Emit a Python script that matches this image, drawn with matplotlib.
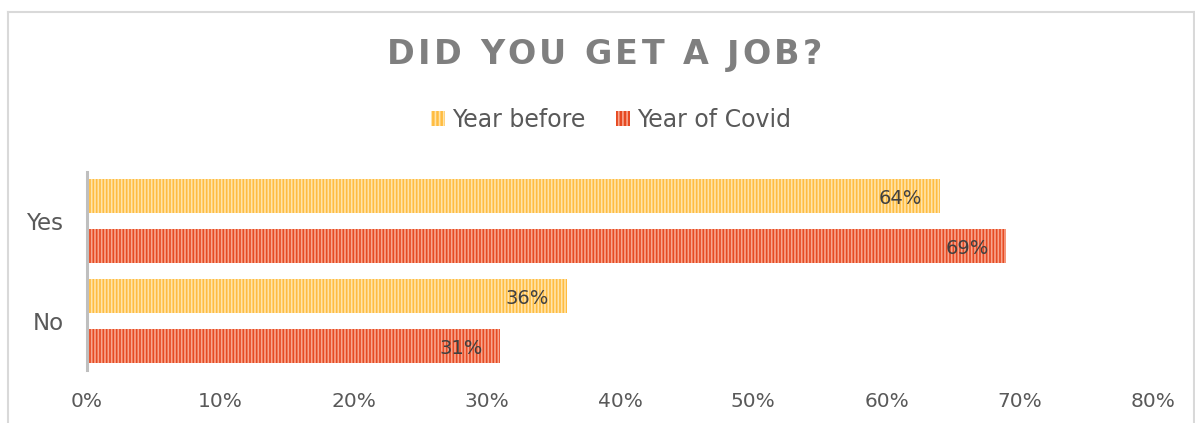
import matplotlib
matplotlib.use("Agg")
import matplotlib.pyplot as plt
from matplotlib.patches import Patch
from matplotlib.lines import Line2D
from matplotlib.font_manager import FontProperties

# data
categories = ["No", "Yes"]
year_before = [0.36, 0.64]
year_covid = [0.31, 0.69]
series_names = ["Year before", "Year of Covid"]
x_ticks = [0.0, 0.1, 0.2, 0.3, 0.4, 0.5, 0.6, 0.7, 0.8]
title = "DID YOU GET A JOB?"

W, H = 1195, 423
plt.rcParams["font.family"] = ["DejaVu Sans"]
plt.rcParams["hatch.linewidth"] = 1.2

fig = plt.figure(figsize=(W / 100, H / 100), dpi=100)
fig.patch.set_facecolor("white")

# chart frame (outer border)
border = dict(color="#D9D9D9", lw=1.5, transform=None)
fig.add_artist(Line2D([8, 8], [0, H - 12], **border))
fig.add_artist(Line2D([8, 1194], [H - 12, H - 12], **border))
fig.add_artist(Line2D([1194, 1194], [0, H - 12], **border))

ax = fig.add_axes([87 / W, 1 - 370 / H, (1153 - 87) / W, (370 - 172) / H])

c_before, h_before = "#FFBC40", "#FFE4AA"
c_covid, h_covid = "#E64A22", "#F8A68E"

pos = list(range(len(categories)))
bh = 0.34
b1 = ax.barh([p + 0.25 for p in pos], year_before, height=bh, color=c_before,
             edgecolor=h_before, hatch="|||||", linewidth=0)
b2 = ax.barh([p - 0.25 for p in pos], year_covid, height=bh, color=c_covid,
             edgecolor=h_covid, hatch="|||||", linewidth=0)

for bars in (b1, b2):
    for rect in bars:
        v = rect.get_width()
        ax.annotate(f"{round(v * 100)}%", (v, rect.get_y() + rect.get_height() / 2),
                    xytext=(-12.5, -2), textcoords="offset points",
                    ha="right", va="center", fontsize=14, color="#404040")

ax.set_xlim(0, 0.8)
ax.set_ylim(-0.49, 1.49)
ax.set_xticks(x_ticks)
ax.set_xticklabels([f"{round(t * 100)}%" for t in x_ticks])
ax.set_yticks(pos)
ax.set_yticklabels(categories)
ax.tick_params(axis="both", length=0, labelcolor="#595959")
ax.tick_params(axis="x", pad=16, labelsize=14.5)
ax.tick_params(axis="y", pad=17, labelsize=16.5)
for s in ("top", "right", "bottom"):
    ax.spines[s].set_visible(False)
ax.spines["left"].set_color("#BFBFBF")
ax.spines["left"].set_linewidth(2.2)

# legend
handles = [Patch(facecolor=c_before, edgecolor=h_before, hatch="||||", linewidth=0),
           Patch(facecolor=c_covid, edgecolor=h_covid, hatch="||||", linewidth=0)]
leg = fig.legend(handles, series_names, loc="center", bbox_to_anchor=(611 / W, 1 - 120 / H),
                 ncol=2, frameon=False, fontsize=17, handlelength=0.6, handleheight=0.6,
                 handletextpad=0.3, columnspacing=1.3)
for t in leg.get_texts():
    t.set_color("#595959")

# letter-spaced title
fp = FontProperties(family="DejaVu Sans", weight="bold", size=24)
r = fig.canvas.get_renderer()
widths = [r.get_text_width_height_descent(ch, fp, ismath=False)[0] for ch in title]
x0, x1 = 387, 822
track = (x1 - x0 - sum(widths)) / (len(title) - 1)
x = x0
for ch, w in zip(title, widths):
    fig.text(x / W, 1 - 55 / H, ch, fontproperties=fp, color="#7F7F7F",
             ha="left", va="center")
    x += w + track

fig.savefig("out.png", dpi=100, facecolor="white")
